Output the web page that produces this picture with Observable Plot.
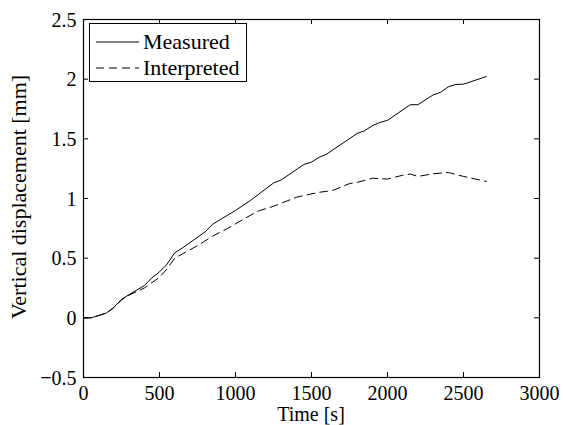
<!DOCTYPE html>
<html>
<head>
<meta charset="utf-8">
<script src="https://cdn.jsdelivr.net/npm/d3@7"></script>
<script src="https://cdn.jsdelivr.net/npm/@observablehq/plot@0.6"></script>
<style>
  html, body { margin: 0; padding: 0; background: #fff; }
  #chart { position: relative; width: 563px; height: 425px; }
  svg { font-family: "Liberation Serif", "DejaVu Serif", serif; }
</style>
</head>
<body>
<div id="chart"></div>
<script>
// Measured series: [time (s), vertical displacement (mm)]
const measuredT = [0, 50, 150, 200, 250, 300, 400, 450, 500, 550, 600, 650, 800, 850, 1000, 1100, 1250, 1300, 1450, 1500, 1550, 1600, 1800, 1850, 1900, 1950, 2000, 2150, 2200, 2300, 2350, 2400, 2450, 2500, 2650];
const measuredV = [0, 0, 0.04, 0.088, 0.155, 0.195, 0.27, 0.335, 0.385, 0.45, 0.545, 0.585, 0.72, 0.785, 0.9, 0.985, 1.13, 1.155, 1.285, 1.305, 1.345, 1.372, 1.545, 1.568, 1.61, 1.637, 1.655, 1.786, 1.786, 1.868, 1.89, 1.936, 1.956, 1.958, 2.022];

// Interpreted series
const interpT = [0, 50, 150, 200, 250, 300, 400, 500, 550, 600, 650, 750, 850, 950, 1050, 1150, 1250, 1400, 1450, 1550, 1600, 1650, 1750, 1800, 1900, 2000, 2100, 2150, 2200, 2300, 2400, 2500, 2650];
const interpV = [0, 0, 0.04, 0.085, 0.15, 0.19, 0.25, 0.34, 0.41, 0.5, 0.535, 0.605, 0.685, 0.75, 0.825, 0.895, 0.935, 1.01, 1.025, 1.052, 1.06, 1.072, 1.125, 1.135, 1.17, 1.163, 1.195, 1.205, 1.185, 1.207, 1.218, 1.185, 1.143];

const xTicks = [0, 500, 1000, 1500, 2000, 2500, 3000];
const yTicks = [-0.5, 0, 0.5, 1, 1.5, 2, 2.5];
const xLabel = "Time [s]";
const yLabel = "Vertical displacement [mm]";
const seriesNames = ["Measured", "Interpreted"];

const measured = measuredT.map((t, i) => ({t, v: measuredV[i]}));
const interpreted = interpT.map((t, i) => ({t, v: interpV[i]}));

const fmt = d => d < 0 ? "\u2212" + Math.abs(d) : String(d);

const plot = Plot.plot({
  width: 563,
  height: 425,
  marginLeft: 83,
  marginRight: 24,
  marginTop: 19,
  marginBottom: 48,
  style: {fontFamily: "Liberation Serif, serif", fontSize: "20px", background: "#fff", color: "#000", overflow: "visible"},
  x: {domain: [0, 3000]},
  y: {domain: [-0.5, 2.5]},
  marks: [
    Plot.axisX(xTicks, {anchor: "bottom", tickSize: 0, tickPadding: 7, tickFormat: fmt, label: null, fontSize: 20}),
    Plot.axisY(yTicks, {anchor: "left", tickSize: 0, tickPadding: 7, tickFormat: fmt, label: null, fontSize: 20}),
    // inward ticks (bottom, top, left, right)
    Plot.ruleX(xTicks, {x: d => d, y1: -0.5, y2: -0.5, insetTop: -5, stroke: "#000"}),
    Plot.ruleX(xTicks, {x: d => d, y1: 2.5, y2: 2.5, insetBottom: -5, stroke: "#000"}),
    Plot.ruleY(yTicks, {y: d => d, x1: 0, x2: 0, insetRight: -5, stroke: "#000"}),
    Plot.ruleY(yTicks, {y: d => d, x1: 3000, x2: 3000, insetLeft: -5, stroke: "#000"}),
    Plot.line(interpreted, {x: "t", y: "v", stroke: "#000", strokeWidth: 1, strokeDasharray: "8,5"}),
    Plot.line(measured, {x: "t", y: "v", stroke: "#000", strokeWidth: 1}),
    Plot.frame({stroke: "#000", strokeWidth: 1.2})
  ]
});

document.getElementById("chart").appendChild(plot);

const svg = d3.select(plot);
// slight vertical stretch of the tick label glyphs (as in the reference)
svg.selectAll("text").each(function () {
  const t = this.getAttribute("transform") || "";
  this.setAttribute("transform", `${t} scale(1,1.1)`);
});

// axis labels
svg.append("text")
  .attr("transform", "translate(311,421) scale(1,1.1)")
  .attr("text-anchor", "middle")
  .attr("font-size", 20).attr("fill", "#000")
  .text(xLabel);
svg.append("text")
  .attr("transform", "translate(25.5,197) scale(1,1.1) rotate(-90)")
  .attr("text-anchor", "middle")
  .attr("font-size", 20).attr("fill", "#000")
  .text(yLabel);

// legend
const lg = svg.append("g").attr("text-anchor", "start");
lg.append("rect").attr("x", 89.5).attr("y", 23.5).attr("width", 157).attr("height", 58)
  .attr("fill", "#fff").attr("stroke", "#000").attr("stroke-width", 1);
const rows = [{y: 42, dash: null}, {y: 68, dash: "8,5"}];
seriesNames.forEach((name, i) => {
  const r = rows[i];
  const ln = lg.append("line").attr("x1", 96).attr("x2", 139).attr("y1", r.y).attr("y2", r.y)
    .attr("stroke", "#000").attr("stroke-width", 1);
  if (r.dash) ln.attr("stroke-dasharray", r.dash);
  lg.append("text").attr("x", 143).attr("y", r.y + 7).attr("text-anchor", "start")
    .attr("font-size", 22).attr("fill", "#000").text(name);
});
</script>
</body>
</html>
